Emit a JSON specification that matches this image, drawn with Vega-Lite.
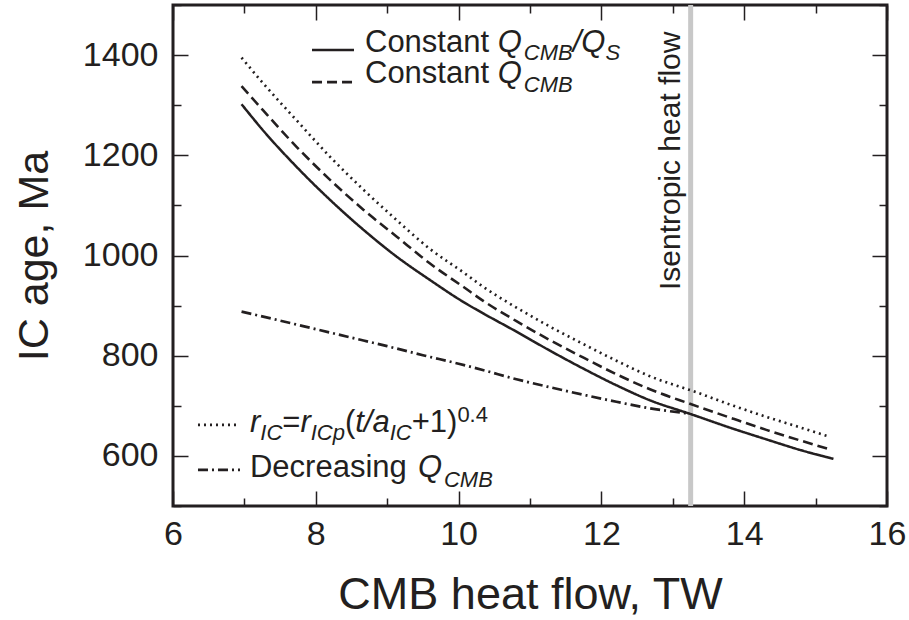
{
  "$schema": "https://vega.github.io/schema/vega-lite/v6.json",
  "width": 714,
  "height": 501,
  "autosize": {"type": "none"},
  "padding": {"left": 173, "top": 5, "right": 22, "bottom": 114},
  "background": "white",
  "config": {
    "view": {"stroke": "#231f20", "strokeWidth": 3},
    "font": "Liberation Sans",
    "text": {"font": "Liberation Sans", "color": "#231f20"}
  },
  "datasets": {
    "isentropic": [{"x": 13.25}],
    "isentropicLabel": [{"x": 13.101, "y": 931, "text": "Isentropic heat flow"}],
    "curves": [
      {"series": "solid", "key": "curve", "x": 6.96, "y": 1302},
      {"series": "solid", "key": "curve", "x": 7.26, "y": 1250},
      {"series": "solid", "key": "curve", "x": 7.73, "y": 1177},
      {"series": "solid", "key": "curve", "x": 8.2, "y": 1111},
      {"series": "solid", "key": "curve", "x": 8.67, "y": 1051},
      {"series": "solid", "key": "curve", "x": 9.13, "y": 998},
      {"series": "solid", "key": "curve", "x": 9.6, "y": 951},
      {"series": "solid", "key": "curve", "x": 10.07, "y": 907},
      {"series": "solid", "key": "curve", "x": 10.35, "y": 884},
      {"series": "solid", "key": "curve", "x": 10.81, "y": 848},
      {"series": "solid", "key": "curve", "x": 11.28, "y": 810},
      {"series": "solid", "key": "curve", "x": 11.75, "y": 774},
      {"series": "solid", "key": "curve", "x": 12.21, "y": 741},
      {"series": "solid", "key": "curve", "x": 12.68, "y": 711},
      {"series": "solid", "key": "curve", "x": 13.24, "y": 684},
      {"series": "solid", "key": "curve", "x": 13.85, "y": 654},
      {"series": "solid", "key": "curve", "x": 14.31, "y": 633},
      {"series": "solid", "key": "curve", "x": 14.78, "y": 612},
      {"series": "solid", "key": "curve", "x": 15.25, "y": 594},
      {"series": "dashed", "key": "curve", "x": 6.96, "y": 1338},
      {"series": "dashed", "key": "curve", "x": 7.26, "y": 1290},
      {"series": "dashed", "key": "curve", "x": 7.73, "y": 1217},
      {"series": "dashed", "key": "curve", "x": 8.2, "y": 1151},
      {"series": "dashed", "key": "curve", "x": 8.67, "y": 1091},
      {"series": "dashed", "key": "curve", "x": 9.13, "y": 1038},
      {"series": "dashed", "key": "curve", "x": 9.6, "y": 984},
      {"series": "dashed", "key": "curve", "x": 10.07, "y": 937},
      {"series": "dashed", "key": "curve", "x": 10.35, "y": 909},
      {"series": "dashed", "key": "curve", "x": 10.81, "y": 869},
      {"series": "dashed", "key": "curve", "x": 11.28, "y": 831},
      {"series": "dashed", "key": "curve", "x": 11.75, "y": 796},
      {"series": "dashed", "key": "curve", "x": 12.21, "y": 763},
      {"series": "dashed", "key": "curve", "x": 12.68, "y": 733},
      {"series": "dashed", "key": "curve", "x": 13.24, "y": 704},
      {"series": "dashed", "key": "curve", "x": 13.85, "y": 674},
      {"series": "dashed", "key": "curve", "x": 14.31, "y": 652},
      {"series": "dashed", "key": "curve", "x": 14.78, "y": 631},
      {"series": "dashed", "key": "curve", "x": 15.2, "y": 613},
      {"series": "dotted", "key": "curve", "x": 6.96, "y": 1395},
      {"series": "dotted", "key": "curve", "x": 7.26, "y": 1344},
      {"series": "dotted", "key": "curve", "x": 7.73, "y": 1270},
      {"series": "dotted", "key": "curve", "x": 8.2, "y": 1197},
      {"series": "dotted", "key": "curve", "x": 8.67, "y": 1131},
      {"series": "dotted", "key": "curve", "x": 9.13, "y": 1071},
      {"series": "dotted", "key": "curve", "x": 9.6, "y": 1013},
      {"series": "dotted", "key": "curve", "x": 10.07, "y": 966},
      {"series": "dotted", "key": "curve", "x": 10.35, "y": 937},
      {"series": "dotted", "key": "curve", "x": 10.81, "y": 896},
      {"series": "dotted", "key": "curve", "x": 11.28, "y": 858},
      {"series": "dotted", "key": "curve", "x": 11.75, "y": 823},
      {"series": "dotted", "key": "curve", "x": 12.21, "y": 790},
      {"series": "dotted", "key": "curve", "x": 12.68, "y": 759},
      {"series": "dotted", "key": "curve", "x": 13.33, "y": 727},
      {"series": "dotted", "key": "curve", "x": 13.85, "y": 700},
      {"series": "dotted", "key": "curve", "x": 14.31, "y": 678},
      {"series": "dotted", "key": "curve", "x": 14.78, "y": 657},
      {"series": "dotted", "key": "curve", "x": 15.2, "y": 638},
      {"series": "dashdot", "key": "curve", "x": 6.96, "y": 888},
      {"series": "dashdot", "key": "curve", "x": 7.5, "y": 870},
      {"series": "dashdot", "key": "curve", "x": 8.0, "y": 853},
      {"series": "dashdot", "key": "curve", "x": 8.5, "y": 836},
      {"series": "dashdot", "key": "curve", "x": 9.0, "y": 819},
      {"series": "dashdot", "key": "curve", "x": 9.5, "y": 801},
      {"series": "dashdot", "key": "curve", "x": 10.0, "y": 784},
      {"series": "dashdot", "key": "curve", "x": 10.35, "y": 771},
      {"series": "dashdot", "key": "curve", "x": 10.81, "y": 753},
      {"series": "dashdot", "key": "curve", "x": 11.28, "y": 737},
      {"series": "dashdot", "key": "curve", "x": 11.75, "y": 722},
      {"series": "dashdot", "key": "curve", "x": 12.21, "y": 708},
      {"series": "dashdot", "key": "curve", "x": 12.68, "y": 695},
      {"series": "dashdot", "key": "curve", "x": 13.2, "y": 685},
      {"series": "solid", "key": "legend", "x": 7.947, "y": 1410},
      {"series": "solid", "key": "legend", "x": 8.535, "y": 1410},
      {"series": "dashed", "key": "legend", "x": 7.947, "y": 1346},
      {"series": "dashed", "key": "legend", "x": 8.535, "y": 1346},
      {"series": "dotted", "key": "legend", "x": 6.35, "y": 662},
      {"series": "dotted", "key": "legend", "x": 6.938, "y": 662},
      {"series": "dashdot", "key": "legend", "x": 6.35, "y": 572},
      {"series": "dashdot", "key": "legend", "x": 6.938, "y": 572}
    ],
    "legendRoman": [
      {"x": 8.689, "y": 1406, "text": "Constant"},
      {"x": 8.689, "y": 1344, "text": "Constant"},
      {"x": 7.078, "y": 558, "text": "Decreasing"},
      {"x": 7.531, "y": 648, "text": "="},
      {"x": 8.408, "y": 648, "text": "("},
      {"x": 9.343, "y": 648, "text": "+1)"}
    ],
    "legendItalic": [
      {"x": 10.548, "y": 1406, "text": "Q"},
      {"x": 11.597, "y": 1406, "text": "/Q"},
      {"x": 10.548, "y": 1344, "text": "Q"},
      {"x": 7.078, "y": 648, "text": "r"},
      {"x": 7.784, "y": 648, "text": "r"},
      {"x": 8.552, "y": 648, "text": "t/a"},
      {"x": 9.43, "y": 558, "text": "Q"}
    ],
    "legendSub": [
      {"x": 10.913, "y": 1390, "text": "CMB"},
      {"x": 12.056, "y": 1390, "text": "S"},
      {"x": 10.913, "y": 1326, "text": "CMB"},
      {"x": 7.223, "y": 632, "text": "IC"},
      {"x": 7.929, "y": 632, "text": "ICp"},
      {"x": 9.035, "y": 632, "text": "IC"},
      {"x": 9.795, "y": 538, "text": "CMB"}
    ],
    "legendSup": [
      {"x": 9.983, "y": 668, "text": "0.4"}
    ]
  },
  "layer": [
    {
      "data": {"name": "isentropic"},
      "mark": {"type": "rule", "color": "#c8c8c8", "strokeWidth": 5},
      "encoding": {
        "x": {"field": "x", "type": "quantitative", "scale": {"domain": [6, 16], "nice": false, "zero": false}, "axis": null}
      }
    },
    {
      "data": {"name": "curves"},
      "mark": {"type": "line", "color": "#231f20", "strokeCap": "butt", "interpolate": "monotone"},
      "encoding": {
        "x": {
          "field": "x", "type": "quantitative",
          "scale": {"domain": [6, 16], "nice": false, "zero": false},
          "axis": {
            "orient": "bottom",
            "values": [6, 7, 8, 9, 10, 11, 12, 13, 14, 15, 16],
            "labelExpr": "datum.value % 2 === 0 ? datum.label : ''",
            "tickSize": {"condition": {"test": "datum.value % 2 === 0", "value": -15}, "value": -8},
            "tickWidth": 1.5, "tickColor": "#231f20",
            "domain": false, "grid": false,
            "labelFont": "Liberation Sans", "labelFontSize": 34, "labelColor": "#231f20",
            "labelPadding": 26, "labelFlush": false, "labelOverlap": false,
            "title": "CMB heat flow, TW",
            "titleFont": "Liberation Sans", "titleFontSize": 45, "titleFontWeight": "normal", "titleColor": "#231f20",
            "titleY": 102, "titleBaseline": "alphabetic"
          }
        },
        "y": {
          "field": "y", "type": "quantitative",
          "scale": {"domain": [500, 1500], "nice": false, "zero": false},
          "axis": {
            "orient": "left",
            "values": [500, 600, 700, 800, 900, 1000, 1100, 1200, 1300, 1400, 1500],
            "format": "d",
            "labelExpr": "datum.value % 200 === 0 ? datum.label : ''",
            "tickSize": {"condition": {"test": "datum.value % 200 === 0", "value": -15}, "value": -8},
            "tickWidth": 1.5, "tickColor": "#231f20",
            "domain": false, "grid": false,
            "labelFont": "Liberation Sans", "labelFontSize": 34, "labelColor": "#231f20",
            "labelPadding": 30, "labelFlush": false, "labelOverlap": false,
            "title": "IC age, Ma",
            "titleFont": "Liberation Sans", "titleFontSize": 43, "titleFontWeight": "normal", "titleColor": "#231f20",
            "titleX": -126, "titleBaseline": "alphabetic"
          }
        },
        "strokeDash": {
          "field": "series", "type": "nominal",
          "scale": {"domain": ["solid", "dashed", "dotted", "dashdot"], "range": [[1, 0], [10, 5], [2, 4], [10, 4, 2, 4]]},
          "legend": null
        },
        "strokeWidth": {
          "field": "series", "type": "ordinal",
          "scale": {"domain": ["solid", "dashed", "dotted", "dashdot"], "range": [2.5, 2.7, 1.6, 2.4]},
          "legend": null
        },
        "detail": {"field": "key"}
      }
    },
    {
      "data": {"name": "isentropicLabel"},
      "mark": {"type": "text", "angle": 270, "align": "left", "baseline": "alphabetic", "fontSize": 30, "font": "Liberation Sans", "color": "#231f20"},
      "encoding": {
        "x": {"field": "x", "type": "quantitative", "scale": {"domain": [6, 16], "nice": false, "zero": false}, "axis": null},
        "y": {"field": "y", "type": "quantitative", "scale": {"domain": [500, 1500], "nice": false, "zero": false}, "axis": null},
        "text": {"field": "text"}
      }
    },
    {
      "data": {"name": "legendRoman"},
      "mark": {"type": "text", "align": "left", "baseline": "alphabetic", "fontSize": 31, "font": "Liberation Sans", "color": "#231f20"},
      "encoding": {
        "x": {
          "field": "x", "type": "quantitative", "scale": {"domain": [6, 16], "nice": false, "zero": false},
          "axis": {
            "orient": "top", "values": [6, 7, 8, 9, 10, 11, 12, 13, 14, 15, 16], "labels": false, "title": null,
            "tickSize": {"condition": {"test": "datum.value % 2 === 0", "value": -15}, "value": -8},
            "tickWidth": 1.5, "tickColor": "#231f20", "domain": false, "grid": false
          }
        },
        "y": {
          "field": "y", "type": "quantitative", "scale": {"domain": [500, 1500], "nice": false, "zero": false},
          "axis": {
            "orient": "right", "values": [500, 600, 700, 800, 900, 1000, 1100, 1200, 1300, 1400, 1500], "labels": false, "title": null,
            "tickSize": {"condition": {"test": "datum.value % 200 === 0", "value": -15}, "value": -8},
            "tickWidth": 1.5, "tickColor": "#231f20", "domain": false, "grid": false
          }
        },
        "text": {"field": "text"}
      }
    },
    {
      "data": {"name": "legendItalic"},
      "mark": {"type": "text", "align": "left", "baseline": "alphabetic", "fontSize": 31, "fontStyle": "italic", "font": "Liberation Sans", "color": "#231f20"},
      "encoding": {
        "x": {"field": "x", "type": "quantitative", "scale": {"domain": [6, 16], "nice": false, "zero": false}, "axis": null},
        "y": {"field": "y", "type": "quantitative", "scale": {"domain": [500, 1500], "nice": false, "zero": false}, "axis": null},
        "text": {"field": "text"}
      }
    },
    {
      "data": {"name": "legendSub"},
      "mark": {"type": "text", "align": "left", "baseline": "alphabetic", "fontSize": 22, "fontStyle": "italic", "font": "Liberation Sans", "color": "#231f20"},
      "encoding": {
        "x": {"field": "x", "type": "quantitative", "scale": {"domain": [6, 16], "nice": false, "zero": false}, "axis": null},
        "y": {"field": "y", "type": "quantitative", "scale": {"domain": [500, 1500], "nice": false, "zero": false}, "axis": null},
        "text": {"field": "text"}
      }
    },
    {
      "data": {"name": "legendSup"},
      "mark": {"type": "text", "align": "left", "baseline": "alphabetic", "fontSize": 22, "font": "Liberation Sans", "color": "#231f20"},
      "encoding": {
        "x": {"field": "x", "type": "quantitative", "scale": {"domain": [6, 16], "nice": false, "zero": false}, "axis": null},
        "y": {"field": "y", "type": "quantitative", "scale": {"domain": [500, 1500], "nice": false, "zero": false}, "axis": null},
        "text": {"field": "text"}
      }
    }
  ],
  "resolve": {"axis": {"x": "independent", "y": "independent"}}
}
